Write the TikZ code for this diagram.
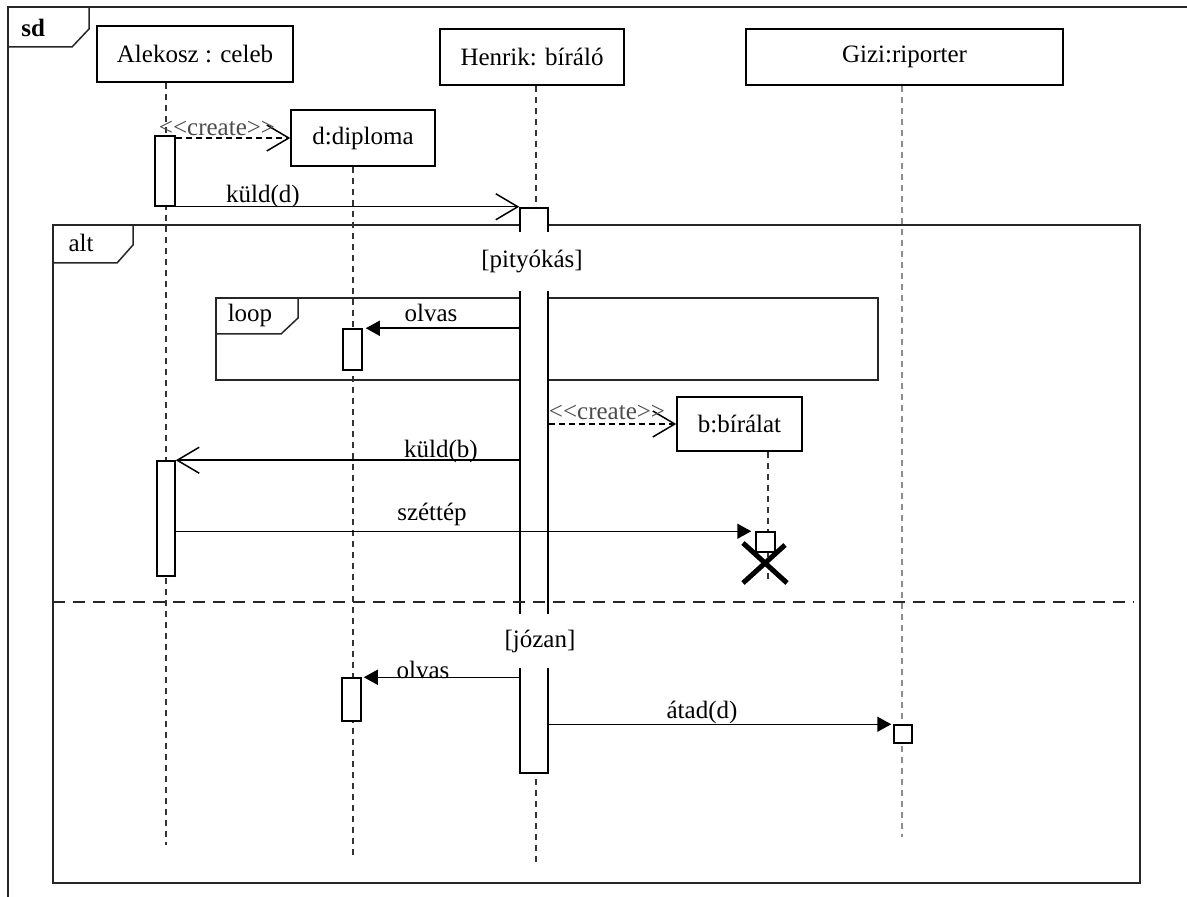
\documentclass[tikz,border=0pt]{standalone}
\usepackage{fontspec}
\setmainfont{Liberation Serif}
\usetikzlibrary{arrows.meta}
\tikzset{
  frameline/.style={black!85,line width=0.75pt},
  head/.style={draw,line width=0.75pt,fill=white,inner sep=0pt},
  bar/.style={draw,line width=0.75pt,fill=white,inner sep=0pt,minimum width=#1},
  lifeline/.style={black!80,line width=0.75pt,dash pattern=on 3pt off 2.5pt},
  msg/.style={line width=0.75pt,-{Triangle[length=7pt,width=7.5pt]}},
  reply/.style={line width=0.75pt,-{Straight Barb[length=11pt,width=13pt,line width=0.75pt]}},
  createmsg/.style={reply,dash pattern=on 3pt off 2pt},
  lbl/.style={inner sep=0pt,anchor=base},
  guard/.style={fill=white,inner xsep=2pt,inner ysep=0pt,minimum height=#1}
}
\begin{document}
\begin{tikzpicture}[x=0.5pt,y=-0.5pt,font=\fontsize{12.5}{15}\selectfont]
\useasboundingbox (0,0) rectangle (1187,897);
\draw[frameline,line width=1pt] (8,897) -- (8,7) -- (1187,7);
\draw[frameline] (8,47) -- (72,47) -- (89,29) -- (89,7);
\node[lbl,anchor=base west] (sd) at (21,37) {\bfseries sd};

\draw[frameline] (53,225) rectangle (1140,883);
\draw[frameline] (53,263) -- (117,263) -- (133,245) -- (133,225);
\node[lbl] (altl) at (81,252) {alt};
\draw[frameline] (216,298) rectangle (878,380);
\draw[frameline] (216,334) -- (281,334) -- (298,318) -- (298,298);
\node[lbl] (loopl) at (250,322) {loop};

\node[head,minimum width=98pt,minimum height=28pt] (alek) at (195,54) {Alekosz : celeb};
\node[head,minimum width=92pt,minimum height=28pt] (henr) at (532,57) {Henrik: bíráló};
\node[head,minimum width=158.5pt,minimum height=28pt] (gizi) at (904.5,57) {Gizi:riporter};
\node[head,minimum width=72pt,minimum height=28pt] (dipl) at (363,138) {d:diploma};
\node[head,minimum width=62.5pt,minimum height=27pt] (bir) at (739.5,424) {b:bírálat};

\coordinate (alekEnd) at (166,845);
\coordinate (henrEnd) at (536,862);
\coordinate (diplEnd) at (353,856);
\coordinate (giziEnd) at (902,837);
\coordinate (birEnd) at (768,580);
\draw[lifeline] (alekEnd |- alek.south) -- (alekEnd);
\draw[lifeline] (henrEnd |- henr.south) -- (henrEnd);
\draw[lifeline] (diplEnd |- dipl.south) -- (diplEnd);
\draw[lifeline,black!45] (giziEnd |- gizi.south) -- (giziEnd);
\draw[lifeline] (birEnd |- bir.south) -- (birEnd);

\node[bar=10pt,minimum height=35pt] (ab1) at (165,171) {};
\node[bar=9pt,minimum height=57.5pt] (ab2) at (166,518.5) {};
\node[bar=14pt,minimum height=282.5pt] (hb) at (534,490.5) {};
\node[bar=9.5pt,minimum height=20.5pt] (db1) at (352.5,349.5) {};
\node[bar=9.5pt,minimum height=21.5pt] (db2) at (351.5,699.5) {};
\node[bar=9.5pt,minimum height=10pt] (bb) at (765.5,542) {};
\node[bar=9pt,minimum height=9pt] (gb) at (903,734) {};

\draw[createmsg] (ab1.east |- dipl.west) -- (dipl.west);
\node[lbl,black!70] (crd) at (217,136) {<\kern0pt<create>\kern0pt>};
\draw[reply] (ab1.south west) -- (ab1.south west -| hb.west);
\node[lbl] (kd) at (263,203) {küld(d)};
\draw[msg,shorten >=1.5pt] (hb.west |- db1.north) -- (db1.north east);
\node[lbl] (ol1) at (431,322) {olvas};
\draw[createmsg] (hb.east |- bir.west) -- (bir.west);
\node[lbl,black!70] (crb) at (607,420) {<\kern0pt<create>\kern0pt>};
\draw[reply] (hb.west |- ab2.north) -- (ab2.north east);
\node[lbl] (kb) at (441,458) {küld(b)};
\draw[msg,shorten >=2pt] (ab2.east |- bb.north) -- (bb.north west);
\node[lbl] (szt) at (432,520) {széttép};
\coordinate (bdel) at (765,563);
\draw[line width=2.5pt] (bdel) ++(-22,-20) -- ++(44,40) (bdel) ++(20,-18) -- ++(-42,38);
\draw[msg,shorten >=1pt] (hb.west |- db2.north) -- (db2.north east);
\node[lbl] (ol2) at (423,678) {olvas};
\draw[msg,shorten >=1pt] (hb.east |- gb.north) -- (gb.north west);
\node[lbl] (atd) at (702,718) {átad(d)};

\draw[frameline,dash pattern=on 6pt off 4pt] (53,602) -- (1134,602);
\node[guard=29.5pt] (g1) at (532,262) {[pityókás]};
\node[guard=27pt] (g2) at (540,641) {[józan]};
\end{tikzpicture}
\end{document}
